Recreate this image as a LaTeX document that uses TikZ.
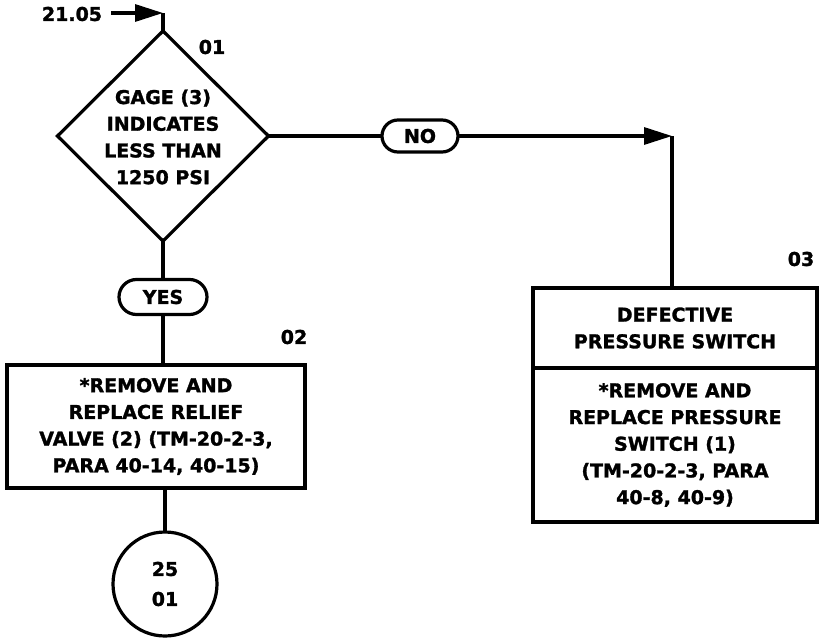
\documentclass[tikz,border=0pt]{standalone}
\usepackage{fontspec}
\setmainfont{DejaVu Sans}[BoldFeatures={FakeBold=1.5}]
\usetikzlibrary{shapes.geometric,shapes.misc,arrows.meta}
\begin{document}
\begin{tikzpicture}[x=1pt,y=-1pt,
  every node/.style={font=\fontsize{19}{26.7}\selectfont\bfseries, inner sep=0pt, outer sep=0pt},
  ln/.style={line width=3.2pt},
  boxst/.style={draw, line width=3.2pt, rectangle, align=center},
  pill/.style={draw, line width=3.2pt, rounded rectangle},
  arr/.style={ln, -{Triangle[length=28pt,width=17pt]}},
  txt/.style={align=center}]
\useasboundingbox (0,0) rectangle (820,640);
% start
\node[txt] (start) at (72,14) {21.05};
\coordinate (s0) at (111,13);
\coordinate (corner) at (163,13);
\node[draw, diamond, line width=3.2pt, minimum width=211pt, minimum height=210pt] (d) at (163,136) {};
\node[txt] (dt) at (163,137) {GAGE (3)\\INDICATES\\LESS THAN\\1250 PSI};
\node[txt] (l01) at (212,47) {01};
% NO branch
\node[pill, minimum width=76pt, minimum height=32pt] (no) at (420,136) {NO};
\coordinate (rcorner) at (672,136);
\node[boxst, minimum width=284pt, minimum height=80pt] (b3a) at (675,328) {DEFECTIVE\\PRESSURE SWITCH};
\node[boxst, minimum width=284pt, minimum height=154pt, anchor=north] (b3b) at (b3a.south) {*REMOVE AND\\REPLACE PRESSURE\\SWITCH (1)\\(TM-20-2-3, PARA\\40-8, 40-9)};
\node[txt] (l03) at (801,259) {03};
% YES branch
\node[pill, minimum width=88pt, minimum height=35pt] (yes) at (163,297) {YES};
\node[boxst, minimum width=298pt, minimum height=123pt] (b2) at (156,426.5) {*REMOVE AND\\REPLACE RELIEF\\VALVE (2) (TM-20-2-3,\\PARA 40-14, 40-15)};
\node[txt] (l02) at (294,337) {02};
\node[draw, circle, line width=3.2pt, minimum size=104pt, align=center, font=\fontsize{19}{30}\selectfont\bfseries] (c) at (165,584) {25\\01};
% connectors
\draw[arr] (s0) -- (corner);
\draw[ln] (corner) -- (d.north);
\draw[ln] (d.east) -- (no.west);
\draw[arr] (no.east) -- (rcorner);
\draw[ln] (rcorner) -- (rcorner |- b3a.north);
\draw[ln] (d.south) -- (yes.north);
\draw[ln] (yes.south) -- (yes.south |- b2.north);
\draw[ln] (b2.south -| c.north) -- (c.north);
\end{tikzpicture}
\end{document}
